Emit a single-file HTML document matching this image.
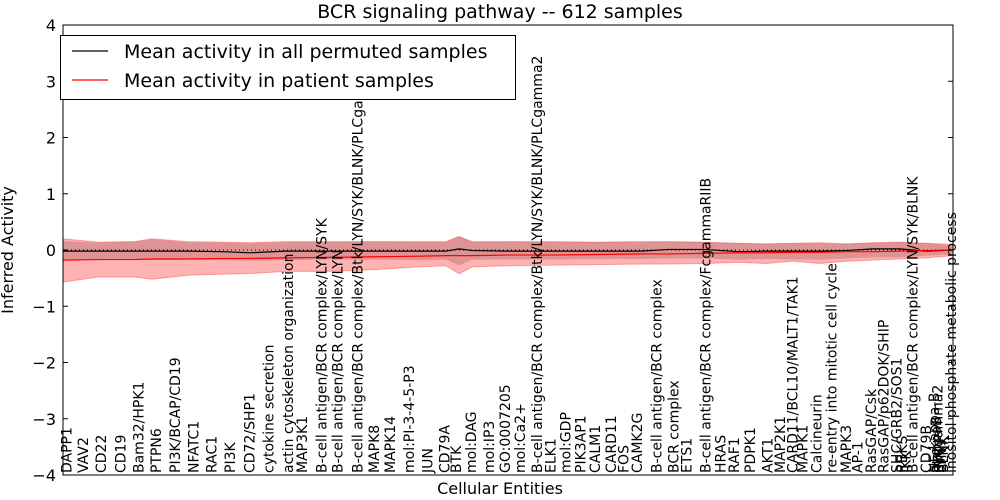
<!DOCTYPE html>
<html><head><meta charset="utf-8"><style>
html,body{margin:0;padding:0;background:#fff;}
svg{display:block;font-family:"DejaVu Sans","Liberation Sans",sans-serif;}
</style></head><body>
<svg id="chart" width="1000" height="500" viewBox="0 0 1000 500" xmlns="http://www.w3.org/2000/svg">
<rect x="0" y="0" width="1000" height="500" fill="#fff"/>
<text x="500" y="18" font-size="19" text-anchor="middle">BCR signaling pathway -- 612 samples</text>
<text transform="translate(13,250) rotate(-90)" font-size="16" text-anchor="middle">Inferred Activity</text>
<text x="500" y="494" font-size="16" text-anchor="middle">Cellular Entities</text>
<g id="bands"></g><g id="lines"></g><g id="ticks"></g><g id="xlabels"></g>
<rect x="63" y="25" width="890" height="450" fill="none" stroke="#000" stroke-width="1"/>
<g>
<rect x="60.5" y="35.5" width="455" height="64" fill="#fff" stroke="#000"/>
<line x1="72" y1="51" x2="108" y2="51" stroke="#000" stroke-width="1.2"/>
<text x="124" y="58" font-size="19">Mean activity in all permuted samples</text>
<line x1="72" y1="80" x2="108" y2="80" stroke="#f00" stroke-width="1.2"/>
<text x="124" y="87" font-size="19">Mean activity in patient samples</text>
</g>
</svg>
<script>
const entities = ["DAPP1","VAV2","CD22","CD19","Bam32/HPK1","PTPN6","PI3K/BCAP/CD19","NFATC1","RAC1","PI3K","CD72/SHP1","cytokine secretion","actin cytoskeleton organization","MAP3K1","B-cell antigen/BCR complex/LYN/SYK","B-cell antigen/BCR complex/LYN","B-cell antigen/BCR complex/Btk/LYN/SYK/BLNK/PLCgamma2","MAPK8","MAPK14","mol:PI-3-4-5-P3","JUN","CD79A","BTK","mol:DAG","mol:IP3","GO:0007205","mol:Ca2+","B-cell antigen/BCR complex/Btk/LYN/SYK/BLNK/PLCgamma2","ELK1","mol:GDP","PIK3AP1","CALM1","CARD11","FOS","CAMK2G","B-cell antigen/BCR complex","BCR complex","ETS1","B-cell antigen/BCR complex/FcgammaRIIB","HRAS","RAF1","PDPK1","AKT1","MAP2K1","CARD11/BCL10/MALT1/TAK1","MAPK1","Calcineurin","re-entry into mitotic cell cycle","MAPK3","AP-1","RasGAP/Csk","RasGAP/p62DOK/SHIP","SHC/GRB2/SOS1","RBKS","IKK","B-cell antigen/BCR complex/LYN/SYK/BLNK","CD79B","NF-kappa-B","IkappaB","PLCgamma2","SYK","LYN","BLNK","inositol phosphate metabolic process"];
const entityPos = [0.2,2.1,4.1,6.3,8.3,10.3,12.4,14.5,16.5,18.6,20.8,22.9,25.1,26.7,28.9,30.7,32.9,34.8,36.6,38.7,40.8,42.7,44.0,45.7,47.7,49.5,51.2,53.1,54.6,56.3,58.0,59.6,61.4,62.8,64.3,66.5,68.4,69.9,72.0,73.7,75.2,77.0,79.0,80.4,81.8,82.9,84.5,86.2,87.8,89.1,90.6,92.0,93.5,94.1,94.5,95.3,96.8,97.7,97.9,98.1,98.3,98.5,98.7,99.6];
const sampleX = [0,4,8,10,14,18,21,25,30,35,40,43,44.5,46,50,55,60,65,68,72,76,79,82,85,88,91,94,97,100];
const permutedMean = [-0.02,-0.02,-0.02,-0.02,-0.02,-0.03,-0.05,-0.02,-0.02,-0.02,-0.02,-0.02,0.02,-0.01,-0.02,-0.02,-0.02,-0.02,0.01,0.01,-0.03,-0.02,-0.02,-0.02,-0.01,0.02,0.02,-0.02,0];
const permutedUpper = [0.16,0.13,0.15,0.19,0.14,0.13,0.12,0.14,0.14,0.15,0.14,0.14,0.24,0.14,0.15,0.14,0.14,0.14,0.15,0.14,0.12,0.11,0.12,0.12,0.11,0.13,0.14,0.12,0.08];
const permutedLower = [-0.18,-0.17,-0.17,-0.18,-0.17,-0.18,-0.19,-0.18,-0.17,-0.17,-0.18,-0.17,-0.27,-0.17,-0.17,-0.17,-0.16,-0.16,-0.15,-0.15,-0.17,-0.16,-0.17,-0.17,-0.15,-0.13,-0.13,-0.1,-0.08];
const patientMean = [-0.18,-0.17,-0.17,-0.16,-0.16,-0.15,-0.15,-0.14,-0.13,-0.12,-0.11,-0.1,-0.1,-0.1,-0.09,-0.09,-0.08,-0.07,-0.07,-0.06,-0.05,-0.05,-0.04,-0.04,-0.03,-0.03,-0.02,-0.01,0];
const patientUpper = [0.2,0.14,0.15,0.2,0.15,0.14,0.13,0.15,0.15,0.15,0.15,0.15,0.24,0.15,0.15,0.15,0.14,0.15,0.15,0.14,0.12,0.11,0.12,0.13,0.11,0.13,0.14,0.12,0.1];
const patientLower = [-0.57,-0.48,-0.48,-0.52,-0.45,-0.43,-0.42,-0.38,-0.38,-0.35,-0.3,-0.28,-0.42,-0.3,-0.28,-0.27,-0.26,-0.25,-0.25,-0.24,-0.22,-0.24,-0.2,-0.24,-0.2,-0.18,-0.16,-0.14,-0.1];
const yTicks = [-4,-3,-2,-1,0,1,2,3,4];

const L=63,R=953,T=25,B=475;
const xs = v => L + (v/100)*(R-L);
const ys = v => T + (4-v)/8*(B-T);
const NS="http://www.w3.org/2000/svg";
function mk(tag, attrs, parent){const e=document.createElementNS(NS,tag);for(const k in attrs)e.setAttribute(k,attrs[k]);parent.appendChild(e);return e;}
function band(up,lo){let d="M"+sampleX.map((x,i)=>xs(x)+","+ys(up[i])).join("L");for(let i=sampleX.length-1;i>=0;i--)d+="L"+xs(sampleX[i])+","+ys(lo[i]);return d+"Z";}
function line(arr){return "M"+sampleX.map((x,i)=>xs(x)+","+ys(arr[i])).join("L");}
const bands=document.getElementById('bands'),lines=document.getElementById('lines'),ticks=document.getElementById('ticks'),xl=document.getElementById('xlabels');
let e;
e=mk('path',{d:band(patientUpper,patientLower),fill:"#ff0000","fill-opacity":"0.3",stroke:"#ff0000","stroke-opacity":"0.3"},bands);


e=mk('path',{d:band(permutedUpper,permutedLower),fill:"#7a3a3a","fill-opacity":"0.25",stroke:"none"},bands);


e=mk('line',{x1:L,x2:R,y1:ys(0),y2:ys(0),stroke:"#000","stroke-dasharray":"1,3"},lines);


e=mk('path',{d:line(permutedMean),fill:"none",stroke:"#000","stroke-width":"1.2"},lines);


e=mk('path',{d:line(patientMean),fill:"none",stroke:"#f00","stroke-width":"1.2"},lines);


yTicks.forEach(t=>{
  const y=ys(t);
  mk('line',{x1:L,x2:L+5,y1:y,y2:y,stroke:"#000"},ticks);
  mk('line',{x1:R-5,x2:R,y1:y,y2:y,stroke:"#000"},ticks);
  e=mk('text',{x:L-7,y:y+6,"font-size":"16","text-anchor":"end"},ticks);
  e.textContent=(t<0?"\u2212"+(-t):String(t));
  
  
});
entities.forEach((name,i)=>{
  const x=xs(entityPos[i]);
  e=mk('text',{transform:`translate(${x+6.5},${B-2}) rotate(-90)`,"font-size":"14"},xl);
  e.textContent=name;
  
  
});
</script>
</body></html>
